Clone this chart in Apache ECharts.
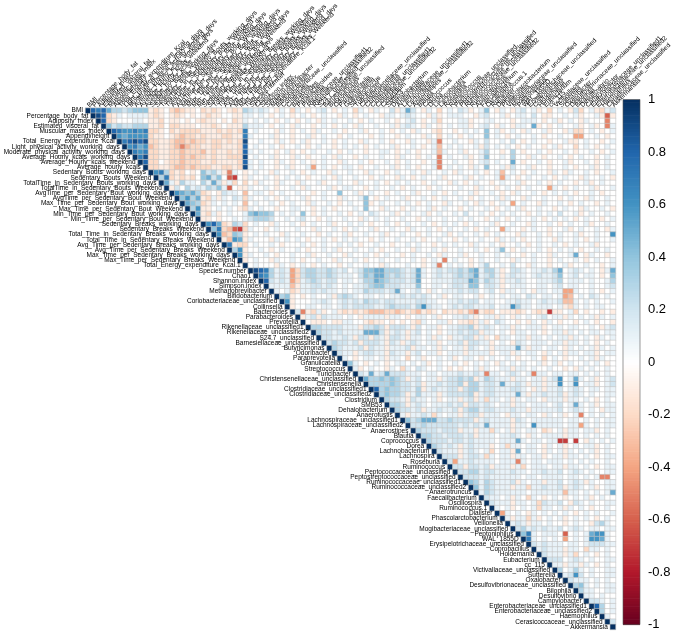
<!DOCTYPE html>
<html><head><meta charset="utf-8">
<script src="https://cdn.jsdelivr.net/npm/echarts@6/dist/echarts.min.js"></script>
<style>html,body{margin:0;padding:0;background:#fff}#c{width:689px;height:638px}</style>
</head><body><div id="c"></div>
<script>
const categories = ["BMI","Percentage_body_fat","Adiposity_index","Estimated_visceral_fat","Muscular_mass_index","Appendi/height","Total_Energy_expenditure_Kcal","Light_physical_activity_working_days","Moderate_physical_activity_working_days","Average_Hourly_kcals_working_days","Average_Hourly_kcals_weekend","Average_hourly_kcals","Sedentary_Bouts_working_days","Sedentary_Bouts_Weekend","TotalTime_in_Sedentary_Bouts_working_days","TotalTime_in_Sedentary_Bouts_Weekend","AvgTime_per_Sedentary_Bout_working_days","AvgTime_per_Sedentary_Bout_Weekend","Max_Time_per_Sedentary_Bout_working_days","Max_Time_per_Sedentary_Bout_Weekend","Min_Time_per_Sedentary_Bout_working_days","Min_Time_per_Sedentary_Bout_Weekend","Sedentary_Breaks_working_days","Sedentary_Breaks_Weekend","Total_Time_in_Sedentary_Breaks_working_days","Total_Time_in_Sedentary_Breaks_Weekend","Avg_Time_per_Sedentary_Breaks_working_days","Avg_Time_per_Sedentary_Breaks_Weekend","Max_Time_per_Sedentary_Breaks_working_days","Max_Time_per_Sedentary_Breaks_Weekend","Total_Energy_expenditure_Kcal.1","Species.number","Chao1","Shannon.index","Simpson.index","Methanobrevibacter","Bifidobacterium","Coriobacteriaceae_unclassified","Collinsella","Bacteroides","Parabacteroides","Prevotella","Rikenellaceae_unclassified1","Rikenellaceae_unclassified2","S24.7_unclassified","Barnesiellaceae_unclassified","Butyricimonas","Odoribacter","Paraprevotella","Granulicatella","Streptococcus","Turicibacter","Christensenellaceae_unclassified","Christensenella","Clostridiaceae_unclassified1","Clostridiaceae_unclassified2","Clostridium","SMB53","Dehalobacterium","Anaerofustis","Lachnospiraceae_unclassified1","Lachnospiraceae_unclassified2","Anaerostipes","Blautia","Coprococcus","Dorea","Lachnobacterium","Lachnospira","Roseburia","Ruminococcus","Peptococcaceae_unclassified","Peptostreptococcaceae_unclassified","Ruminococcaceae_unclassified1","Ruminococcaceae_unclassified2","Anaerotruncus","Faecalibacterium","Oscillospira","Ruminococcus.1","Dialister","Phascolarctobacterium","Veillonella","Mogibacteriaceae_unclassified","Peptoniphilus","WAL_1855D","Erysipelotrichaceae_unclassified","Coprobacillus","Holdemania","Eubacterium","cc_115","Victivallaceae_unclassified","Sutterella","Oxalobacter","Desulfovibrionaceae_unclassified","Bilophila","Desulfovibrio","Campylobacter","Enterobacteriaceae_unclassified1","Enterobacteriaceae_unclassified2","Haemophilus","Cerasicoccaceae_unclassified","Akkermansia"];

// one string per row, starting at the diagonal: X=1, 1..9 = +0.1..+0.9, a..i = -0.1..-0.9, 0 = 0
const rowCodes = [
"X878533234 44aba0bcba a0baba0aba 321210a10b 10a0120a01 0b10a1002a 1520a10b01 021a0140a1 0a1201a0b0 10a2b01ab1 2",
"X98ba1011 11aba0aba0 a0abaa00aa 11010a010a 010a0100a1 0a0100a110 12100a1a01 1100a12001 a011020aa0 0101a001af a",
"X8ba0001 10aab0aa0a 0abaa0a0ba 101010a010 a010a10100 10a010010a 0120a01b00 011a001100 0a01110a01 a010a1000e 0",
"X423223 33aab0bbaa a0aaba0aaa 31110a010a 100a010a01 0a1001001a 1210a10a01 011a0120a1 0a1105a0a0 1001a01a0e 1",
"X87667 67bba0babb bbaaababab 701000a10a 010a10010a 001a0010a0 10a100ab00 a01010401a 010a1001a0 0a1bb010a0 1",
"X6566 66baa0abcb babaaabbaa 710001a00a 001a0100a0 1000a0100a 0100a10b01 0a01004010 a010010a00 100dd0010a 0",
"X789 89bbaabccb cbbabbabab 900100a10a 01a0010a01 00a10010a0 0a100a1e00 100a102001 020a0100a0 01aa0100a0 1",
"X67 56cbaabcec bbaabbaaab 8010010a00 10a0100a01 010a01001a 0010a01c01 01001a2010 10a0100a01 a00b010a01 0",
"X7 67bbaabbcb bbcabaabab 810100a01a 0a010010a0 100a00110a 010a001c10 01a001300a 030a0010a0 010a0010a0 1",
"X 79bbaabbcb cbbabaabbb 901001a00a 10a0010a10 0a0100100a 100a010e01 001a014001 0300a10a00 10a0100a01 0",
"X8bb0abbcb bbaabaaaab 810100a10a 010a0100a1 0010a0010a 0100a01e00 100a012010 050a0010a0 01a0010a01 0",
"Xbbaabccb cbbbaabbab 910100a01a 001d010a01 10a001001a 010a001e01 010a104001 a2001a00a0 010a001a01 0",
"X673bab0 a04231ae10 a0100a1001 0a0100a100 100a100a01 0010a10010 a10010a01c 010a0100a1 0a10010a00 1",
"X37baba b045240fg0 a10010a010 10a0010a10 0100a0100a 10a01001a0 001a01001d 10a010010a 0100a10010 a",
"X51a31 103152a1b0 b0a100a100 a1001a0010 0a10010a01 0100a0100a 10a0100a01 001a0010a0 100a01a010 0",
"Xa203 1213241f0a a10010a001 0a10001a01 100a010010 a0100a0100 0100a100a0 10a01000d1 0a01001a00 1",
"X654 53ba0a2110 c0110a0100 100a010040 01a0100a01 001a0010a0 1001a0010a 0a10010a01 010a0010a0 0",
"X46 35ab1a1021 b10010a010 01a00100a1 00140a0100 1a0010a010 010a01001a 100a100100 a0100a1001 0",
"X5 43ba101010 c010010a01 00a10010a0 1004a01001 010a0100a1 0010a10a01 0d0100a100 10a0100a01 0",
"X 36aa01010a b10100a001 100a010a00 010400a100 a01001a010 0a010010a0 101a00100a 0100a10010 a",
"X5ab1a0100 1454430101 040a010010 a01021001a 01001a0100 1020010a01 0100a01010 2001a01001 0",
"Xaa0a0010 1233320010 1200a01001 00a1010100 100a010010 010100a010 a010010a01 010a0100a0 1",
"X685ba32 b0100a1001 0a01001a00 1010a0010a 010010a010 10a01001a0 0100a10010 a01001a001 0",
"X47bcfg b100a01000 100a10010a 01001a0010 0a10010a01 0010a0100d 100a0100a0 01a010010a 1",
"X6cb43 a010100a10 0100a01001 a001001a00 100a01001a 010010a010 00a10010a0 1001a00100 6",
"Xac65 a1000a1010 10a0010a01 0100a01001 0010a00100 a0100100a1 010a00100a 10010a0100 1",
"X7ab b010010a00 010a010010 10a00100a0 010100a010 100a10010a 0010a01001 0a01001a00 0",
"X36 a0010a0100 10a00101a0 010010a001 00a10010a0 010010a014 0a010010a0 1010a00101 0",
"X6 a10010a001 001a00100a 10010a0100 a010010a10 01a0010010 100a0100a1 00150a100a 0",
"X a0100a1001 0a00100a10 010a001001 0010a010e0 100a010010 0a100100a0 10010a0100 1",
"X01000a10a 010a0100a0 100100a100 0100a01e01 010a013001 0200a100a0 01a00100a0 1",
"X9873121d b233223212 0124455333 2125101212 232451331a 0221011213 50121010a1 5",
"X763121d b233223211 1024355323 2125101211 232351231a 1211012112 40120110a0 4",
"X82121d b123212201 1013354322 2125001111 222541321a 1121001112 3011101001 3",
"X1111c a112212101 0112344222 1114001101 221440221a 0111001101 2011001001 2",
"X101b a112121101 0113222125 10120a1011 121220120a 11010a1101 1dd10010a0 1",
"X34a 0a01001a23 2101101011 21212101a0 11001a0101 0110210110 1dc0102101 0",
"X6a 0001121012 1213221221 1112211001 1212201100 1121101211 2cc1010100 1",
"Xa 0011011012 1222211232 2213621101 2122111201 1631101110 1ab1010110 0",
"X 2eab1a01ab ababcccbbc babcaba0ba abaceabb0a aaba0abaga a01b0a00a0 a",
"Xa12a21110 10a1111a11 0a01101a00 1121a011a1 0a10101201 1a10101a10 1",
"X0aaa0aa1 100abaa0a0 a0ab10011a 0aaba1a021 00a0a10a10 a00a010a00 a",
"X3322221 11a2232a22 21a2011a01 1223a12101 1a10111a01 10110010a1 2",
"X322121 1115552a12 1a12010a01 12122a1101 0a11010a01 1a10101101 1",
"X22112 1a22a21a22 1a1101a10a 1122a1a0b1 1011a11010 11a1010a10 1",
"X2322 12a2221a21 a121011a01 12a2211a01 0a21011101 1a11010a01 0",
"X321 112a211a11 12a1101a10 11a2101a11 1151a11011 0a10101a10 1",
"X21 1a12211a21 1a12011a01 11a1111a01 1a10110a10 1a11011a01 1",
"X1 0a01101a11 0b01a00101 a0110a0100 10a0010b01 0a00101a10 0",
"X 410a010a01 10101a0100 10a01010a1 0101001a01 a01001010a 0",
"X1a0100a10 b10210010a 0a001a1001 1a11010010 0a0a101001 0",
"X21512522 2111011011 121121e110 12101e1101 1011010101 0",
"X5334343 2a12011a12 2323a13211 1a11011a12 6015101a01 2",
"X333343 2212a11212 23a3312215 1121a11a11 6016011a01 2",
"X83433 2213a12112 2a23312211 12210a1a11 2012101101 1",
"X3433 2a13111a12 2223a12211 1151a11211 2a12101001 1",
"X322 1a21101a01 1a12a1b110 1a10110a11 1a11010a01 0",
"X33 2a12101112 12a2212101 1a11011101 2015101a01 1",
"X3 2212a11211 2a23312211 1211a11111 20121010a1 1",
"X 1a1121b101 1a122a1110 a110110a10 1a01e01010 1",
"X423555223 2222a12111 1a21011111 1011010101 1",
"X22322222 2121215111 1a11061111 1011d10101 1",
"X3222122 2a11a11b10 1a10110ba0 1a11011a01 0",
"X332212 2212a11101 1210a10111 1a11010101 0",
"X32221 2212111101 1151011011 gg0g0a1010 1",
"X3212 1a12111a01 b110110a10 1a01011a01 0",
"X211 1a12101b01 1a50110a10 1a10101a01 0",
"X22 2a1221b101 1a11011a01 1a11010a01 1",
"X2 d112111101 11e1011011 1010101001 0",
"X 22a2212a11 1a1b011101 1a11010a01 1",
"X223312211 1211011211 2012101001 1",
"X22212111 1110110111 10110101ee 0",
"X4313211 12a1011a11 20121a1001 1",
"X413211 1a11b11211 2a12101a01 1",
"X13211 1111011111 1c11010101 5",
"X2110 1a10b10a01 0a0101a010 0",
"X211 1a1101b211 20a2101001 1",
"X10 1a0101b110 1a1010a001 0",
"Xd 1010a10101 010a010100 1",
"X 1a11b1a010 1a01010a01 0",
"X121a11010 0a0100a231 0",
"X23121211 2012101101 1",
"X4710111 0f01015661 0",
"X710101 0d01016651 0",
"X21211 1011012221 1",
"X1211 1a110b1101 0",
"X211 1a1b010a01 0",
"X22 2012101001 1",
"X1 1a11a10a01 0",
"X 3013101001 1",
"X126201001 1",
"X21110101 0",
"X3410101 1",
"X311001 1",
"X11010 0",
"X2210 1",
"X8301",
"X301",
"X10",
"X2",
"X"
];

const palette = ["#67001F","#B2182B","#D6604D","#F4A582","#FDDBC7","#FFFFFF","#D1E5F0","#92C5DE","#4393C3","#2166AC","#053061"];

function decodeChar(ch){
  if (ch === 'X') return 1;
  if (ch >= '0' && ch <= '9') return (+ch) / 10;
  return -((ch.charCodeAt(0) - 96) / 10);
}

const n = categories.length;
const cells = [];
for (let i = 0; i < n; i++) {
  const s = (rowCodes[i] || '').replace(/\s/g, '');
  for (let k = 0; k < n - i; k++) {
    const v = k < s.length ? decodeChar(s[k]) : 0;
    cells.push([i + k, i, v]);
  }
}
const barBins = [];
for (let k = 0; k < 200; k++) barBins.push([0.5, -1 + (k + 0.5) * 0.01]);

const FONT = 'Liberation Sans, Arial, Helvetica, sans-serif';
const chart = echarts.init(document.getElementById('c'), null, {renderer: 'canvas'});
chart.setOption({
  animation: false,
  backgroundColor: '#fff',
  grid: [
    {left: 85.5, top: 99.5, width: 530, height: 530},
    {left: 623, top: 99.5, width: 17, height: 525}
  ],
  xAxis: [
    {type: 'category', data: categories, gridIndex: 0, position: 'top',
     axisLine: {show: false}, axisTick: {show: false}, splitLine: {show: false},
     axisLabel: {interval: 0, rotate: -45, fontSize: 6.5, color: '#000', margin: 2, fontFamily: FONT}},
    {type: 'value', gridIndex: 1, min: 0, max: 1, show: false}
  ],
  yAxis: [
    {type: 'category', data: categories, gridIndex: 0, inverse: true, show: false},
    {type: 'value', gridIndex: 1, min: -1, max: 1, interval: 0.2, position: 'right',
     axisLine: {show: false}, axisTick: {show: false}, splitLine: {show: false},
     axisLabel: {fontSize: 13, color: '#000', margin: 8, fontFamily: FONT,
       formatter: v => String(Math.round(v * 10) / 10)}}
  ],
  visualMap: [
    {type: 'continuous', min: -1, max: 1, dimension: 2, seriesIndex: 0, show: false, inRange: {color: palette}},
    {type: 'continuous', min: -1, max: 1, dimension: 1, seriesIndex: 2, show: false, inRange: {color: palette}}
  ],
  series: [
    {type: 'heatmap', xAxisIndex: 0, yAxisIndex: 0, data: cells, progressive: 0,
     itemStyle: {borderColor: '#c4c4c4', borderWidth: 0.6}, emphasis: {disabled: true}},
    {type: 'scatter', xAxisIndex: 0, yAxisIndex: 0, silent: true, z: 5,
     data: categories.map((name, i) => [i, i, name]), symbolSize: 1,
     itemStyle: {color: 'rgba(255,255,255,0)'},
     label: {show: true, position: 'left', distance: 4.5, formatter: p => p.data[2],
             fontSize: 6.5, color: '#000', opacity: 1, fontFamily: FONT},
     labelLayout: {hideOverlap: false}},
    {type: 'custom', xAxisIndex: 1, yAxisIndex: 1, data: barBins, silent: true,
     encode: {x: 0, y: 1},
     renderItem: (params, api) => {
       const v = api.value(1);
       const p1 = api.coord([0, v + 0.005]);
       const p2 = api.coord([1, v - 0.005]);
       return {type: 'rect', shape: {x: p1[0], y: p1[1], width: p2[0] - p1[0], height: p2[1] - p1[1] + 0.6},
               style: {fill: api.visual('color')}};
     }},
    {type: 'custom', xAxisIndex: 1, yAxisIndex: 1, data: [[0, 1]], silent: true, z: 10,
     renderItem: (params, api) => {
       const p1 = api.coord([0, 1]);
       const p2 = api.coord([1, -1]);
       return {type: 'rect', shape: {x: p1[0], y: p1[1], width: p2[0] - p1[0], height: p2[1] - p1[1]},
               style: {fill: 'none', stroke: '#555', lineWidth: 0.6}};
     }}
  ]
});
</script>
</body></html>
